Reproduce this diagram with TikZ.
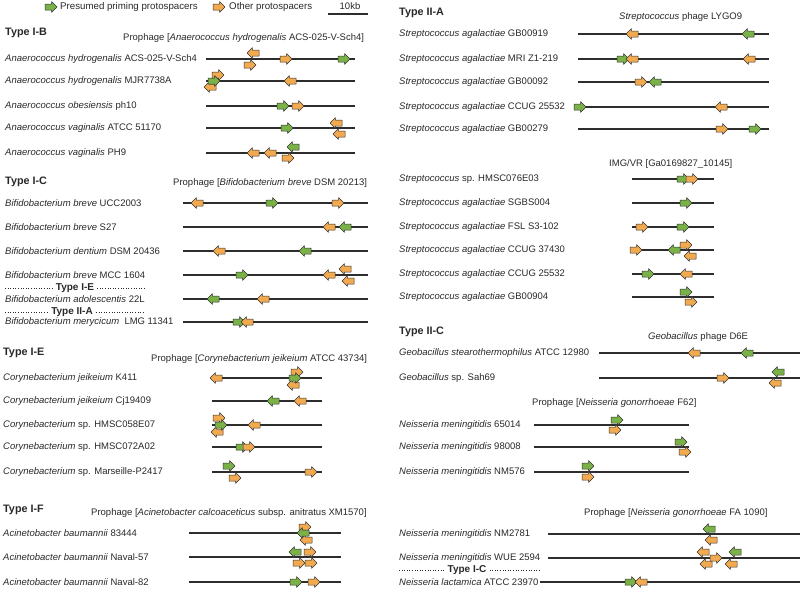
\documentclass[tikz,border=0pt]{standalone}
\usepackage{fontspec}
\setmainfont{Liberation Sans}
\usepackage{xcolor}
\usepackage{tikz}

\definecolor{primgreen}{RGB}{122,178,72}
\definecolor{othorange}{RGB}{242,170,80}
\definecolor{gline}{RGB}{45,45,45}
\definecolor{txt}{RGB}{40,40,40}

\tikzset{
  prim/.style={fill=primgreen, draw=black!80, line width=0.5pt, line join=round},
  othr/.style={fill=othorange, draw=black!80, line width=0.5pt, line join=round},
  genome/.style={draw=gline, line width=1.6pt},
  lbl/.style={anchor=west, inner sep=0pt, text=txt, font=\fontsize{9.5}{11}\selectfont},
  hdr/.style={anchor=west, inner sep=0pt, text=txt, font=\fontsize{10.8}{12}\selectfont\bfseries},
  sep/.style={inner sep=3pt, text=txt, font=\fontsize{10}{12}\selectfont\bfseries},
  sepline/.style={draw=txt, dotted, line width=0.6pt}
}

% protospacer arrow: style, x, y, direction (1 right, -1 left)
\newcommand{\proto}[4]{\draw[#1, shift={(#2,#3)}, xscale=#4]
  (-6,-3) -- (0.6,-3) -- (0.6,-5.4) -- (6,0) -- (0.6,5.4) -- (0.6,3) -- (-6,3) -- cycle;}

\begin{document}
\begin{tikzpicture}[x=1pt, y=-1pt]
\useasboundingbox (0,0) rectangle (800,589);

% legend
\proto{prim}{51}{7}{1}
\node[lbl, font=\fontsize{9.7}{11}\selectfont] (legp) at (60,7) {Presumed priming protospacers};
\proto{othr}{219}{7}{1}
\node[lbl, font=\fontsize{9.7}{11}\selectfont] (lego) at (229,7) {Other protospacers};
\draw[draw=gline, line width=2.4pt] (328,14) -- (368,14);
\node[lbl, anchor=center] (bar) at (350,6) {10kb};

% Type I-B
\begin{scope}
\node[hdr] (tIB) at (5,33) {Type I-B};
\node[lbl] (pIB) at (123,38) {Prophage [\textit{Anaerococcus hydrogenalis} ACS-025-V-Sch4]};
\node[lbl] (ib1) at (5,59) {\textit{Anaerococcus hydrogenalis} ACS-025-V-Sch4};
\node[lbl] (ib2) at (5,81) {\textit{Anaerococcus hydrogenalis} MJR7738A};
\node[lbl] (ib3) at (5,106) {\textit{Anaerococcus obesiensis} ph10};
\node[lbl] (ib4) at (5,128) {\textit{Anaerococcus vaginalis} ATCC 51170};
\node[lbl] (ib5) at (5,153) {\textit{Anaerococcus vaginalis} PH9};
\foreach \y in {59,81,106,128,153}
  \draw[genome] (206,\y) -- (355,\y);
\proto{othr}{253}{53}{-1}
\proto{othr}{250}{65}{1}
\proto{othr}{286}{59}{1}
\proto{prim}{344}{59}{1}
\proto{othr}{218}{75}{1}
\proto{othr}{210}{87}{-1}
\proto{prim}{214}{81}{1}
\proto{othr}{290}{81}{-1}
\proto{prim}{283}{106}{1}
\proto{othr}{298}{106}{1}
\proto{prim}{287}{128}{1}
\proto{othr}{336}{123}{-1}
\proto{othr}{339}{134}{-1}
\proto{othr}{253}{153}{-1}
\proto{othr}{270}{153}{-1}
\proto{othr}{288}{158}{1}
\proto{prim}{293}{147}{-1}
\end{scope}

% Type I-C
\begin{scope}
\node[hdr] (tIC) at (5,182) {Type I-C};
\node[lbl] (pIC) at (173,183) {Prophage [\textit{Bifidobacterium breve} DSM 20213]};
\node[lbl] (ic1) at (5,203) {\textit{Bifidobacterium breve} UCC2003};
\node[lbl] (ic2) at (5,227) {\textit{Bifidobacterium breve} S27};
\node[lbl] (ic3) at (5,251) {\textit{Bifidobacterium dentium} DSM 20436};
\node[lbl] (ic4) at (5,275) {\textit{Bifidobacterium breve} MCC 1604};
\node[sep] (sIE) at (75,288) {Type I-E};
\draw[sepline] (5,288) -- (sIE.west);
\draw[sepline] (sIE.east) -- (145,288);
\node[lbl] (ic5) at (5,299) {\textit{Bifidobacterium adolescentis} 22L};
\node[sep] (sIIA) at (72,312) {Type II-A};
\draw[sepline] (5,312) -- (sIIA.west);
\draw[sepline] (sIIA.east) -- (145,312);
\node[lbl] (ic6) at (5,322) {\textit{Bifidobacterium merycicum}\ \ LMG 11341};
\foreach \y in {203,227,251,275,299,322}
  \draw[genome] (183,\y) -- (368,\y);
\proto{othr}{197}{203}{-1}
\proto{prim}{272}{203}{1}
\proto{othr}{338}{203}{1}
\proto{othr}{329}{227}{-1}
\proto{prim}{345}{227}{-1}
\proto{othr}{219}{251}{-1}
\proto{prim}{305}{251}{-1}
\proto{prim}{242}{275}{1}
\proto{othr}{329}{275}{-1}
\proto{othr}{345}{269}{-1}
\proto{othr}{348}{281}{-1}
\proto{prim}{213}{299}{-1}
\proto{othr}{263}{299}{-1}
\proto{prim}{239}{322}{1}
\proto{othr}{247}{322}{-1}
\end{scope}

% Type I-E
\begin{scope}
\node[hdr] (tIE) at (3,353) {Type I-E};
\node[lbl] (pIE) at (151,359) {Prophage [\textit{Corynebacterium jeikeium} ATCC 43734]};
\node[lbl] (ie1) at (3,378) {\textit{Corynebacterium jeikeium} K411};
\node[lbl] (ie2) at (3,401) {\textit{Corynebacterium jeikeium} Cj19409};
\node[lbl] (ie3) at (3,425) {\textit{Corynebacterium} sp. HMSC058E07};
\node[lbl] (ie4) at (3,447) {\textit{Corynebacterium} sp. HMSC072A02};
\node[lbl] (ie5) at (3,472) {\textit{Corynebacterium} sp. Marseille-P2417};
\draw[genome] (216,378) -- (322,378);
\foreach \y in {401,425,447,472}
  \draw[genome] (212,\y) -- (322,\y);
\proto{othr}{216}{378}{-1}
\proto{othr}{297}{372}{1}
\proto{othr}{293}{385}{-1}
\proto{prim}{295}{378}{1}
\proto{prim}{273}{401}{-1}
\proto{othr}{300}{401}{-1}
\proto{othr}{219}{418}{1}
\proto{othr}{217}{432}{-1}
\proto{prim}{221}{425}{1}
\proto{othr}{254}{425}{-1}
\proto{prim}{242}{447}{1}
\proto{othr}{249}{447}{1}
\proto{prim}{229}{466}{1}
\proto{othr}{235}{478}{1}
\proto{othr}{311}{472}{1}
\end{scope}

% Type I-F
\begin{scope}
\node[hdr] (tIF) at (3,510) {Type I-F};
\node[lbl] (pIF) at (91,513) {Prophage [\textit{Acinetobacter calcoaceticus} subsp. anitratus XM1570]};
\node[lbl] (if1) at (3,533) {\textit{Acinetobacter baumannii} 83444};
\node[lbl] (if2) at (3,557) {\textit{Acinetobacter baumannii} Naval-57};
\node[lbl] (if3) at (3,582) {\textit{Acinetobacter baumannii} Naval-82};
\foreach \y in {533,557,582}
  \draw[genome] (189,\y) -- (341,\y);
\proto{othr}{305}{527}{1}
\proto{othr}{306}{540}{-1}
\proto{prim}{303}{533}{-1}
\proto{prim}{295}{552}{-1}
\proto{othr}{310}{552}{1}
\proto{othr}{299}{563}{1}
\proto{othr}{311}{563}{1}
\proto{prim}{296}{582}{1}
\proto{othr}{314}{582}{1}
\end{scope}

% Type II-A
\begin{scope}
\node[hdr] (tIIA) at (399,13) {Type II-A};
\node[lbl] (pIIA) at (619,17) {\textit{Streptococcus} phage LYGO9};
\node[lbl] (iia1) at (399,34) {\textit{Streptococcus agalactiae} GB00919};
\node[lbl] (iia2) at (399,59) {\textit{Streptococcus agalactiae} MRI Z1-219};
\node[lbl] (iia3) at (399,82) {\textit{Streptococcus agalactiae} GB00092};
\node[lbl] (iia4) at (399,107) {\textit{Streptococcus agalactiae} CCUG 25532};
\node[lbl] (iia5) at (399,129) {\textit{Streptococcus agalactiae} GB00279};
\foreach \y in {34,59,82,107,129}
  \draw[genome] (578,\y) -- (769,\y);
\proto{othr}{632}{34}{-1}
\proto{prim}{748}{34}{-1}
\proto{prim}{623}{59}{1}
\proto{othr}{632}{59}{-1}
\proto{othr}{749}{59}{-1}
\proto{othr}{641}{82}{1}
\proto{prim}{655}{82}{-1}
\proto{prim}{580}{107}{1}
\proto{othr}{721}{107}{-1}
\proto{othr}{722}{129}{1}
\proto{prim}{755}{129}{1}
% IMG/VR
\node[lbl] (pVR) at (609,164) {IMG/VR [Ga0169827\_10145]};
\node[lbl] (vr1) at (399,179) {\textit{Streptococcus} sp. HMSC076E03};
\node[lbl] (vr2) at (399,203) {\textit{Streptococcus agalactiae} SGBS004};
\node[lbl] (vr3) at (399,227) {\textit{Streptococcus agalactiae} FSL S3-102};
\node[lbl] (vr4) at (399,250) {\textit{Streptococcus agalactiae} CCUG 37430};
\node[lbl] (vr5) at (399,274) {\textit{Streptococcus agalactiae} CCUG 25532};
\node[lbl] (vr6) at (399,297) {\textit{Streptococcus agalactiae} GB00904};
\foreach \y in {179,203,227,250,274,297}
  \draw[genome] (632,\y) -- (714,\y);
\proto{prim}{683}{179}{1}
\proto{othr}{692}{179}{1}
\proto{prim}{686}{203}{1}
\proto{othr}{642}{227}{1}
\proto{prim}{683}{227}{1}
\proto{othr}{636}{250}{1}
\proto{prim}{674}{250}{-1}
\proto{othr}{686}{245}{1}
\proto{othr}{690}{256}{-1}
\proto{prim}{648}{274}{1}
\proto{othr}{686}{274}{-1}
\proto{prim}{686}{292}{1}
\proto{othr}{691}{302}{1}
\end{scope}

% Type II-C
\begin{scope}
\node[hdr] (tIIC) at (399,332) {Type II-C};
\node[lbl] (pIIC) at (648,337) {\textit{Geobacillus} phage D6E};
\node[lbl] (iic1) at (399,353) {\textit{Geobacillus stearothermophilus} ATCC 12980};
\node[lbl] (iic2) at (399,378) {\textit{Geobacillus} sp. Sah69};
\foreach \y in {353,378}
  \draw[genome] (599,\y) -- (800,\y);
\proto{othr}{694}{353}{-1}
\proto{prim}{747}{353}{-1}
\proto{othr}{723}{378}{1}
\proto{prim}{778}{372}{-1}
\proto{othr}{775}{383}{-1}
% F62
\node[lbl] (pF62) at (532,403) {Prophage [\textit{Neisseria gonorrhoeae} F62]};
\node[lbl] (nm1) at (399,425) {\textit{Neisseria meningitidis} 65014};
\node[lbl] (nm2) at (399,447) {\textit{Neisseria meningitidis} 98008};
\node[lbl] (nm3) at (399,472) {\textit{Neisseria meningitidis} NM576};
\foreach \y in {425,447,472}
  \draw[genome] (534,\y) -- (689,\y);
\proto{prim}{617}{420}{1}
\proto{othr}{615}{430}{1}
\proto{prim}{681}{442}{1}
\proto{othr}{685}{452}{1}
\proto{prim}{588}{466}{1}
\proto{othr}{588}{477}{1}
% FA 1090
\node[lbl] (pFA) at (584,513) {Prophage [\textit{Neisseria gonorrhoeae} FA 1090]};
\node[lbl] (nm4) at (399,534) {\textit{Neisseria meningitidis} NM2781};
\node[lbl] (nm5) at (399,558) {\textit{Neisseria meningitidis} WUE 2594};
\node[sep] (sIC) at (467,570) {Type I-C};
\draw[sepline] (399,570) -- (sIC.west);
\draw[sepline] (sIC.east) -- (540,570);
\node[lbl] (nl1) at (399,582) {\textit{Neisseria lactamica} ATCC 23970};
\draw[genome] (548,534) -- (800,534);
\draw[genome] (548,558) -- (800,558);
\draw[genome] (540,582) -- (800,582);
\proto{prim}{709}{529}{-1}
\proto{othr}{711}{540}{-1}
\proto{othr}{703}{552}{-1}
\proto{othr}{706}{564}{-1}
\proto{othr}{716}{558}{1}
\proto{prim}{735}{552}{-1}
\proto{othr}{731}{564}{-1}
\proto{prim}{631}{582}{1}
\proto{othr}{641}{582}{-1}
\end{scope}
\end{tikzpicture}
\end{document}
